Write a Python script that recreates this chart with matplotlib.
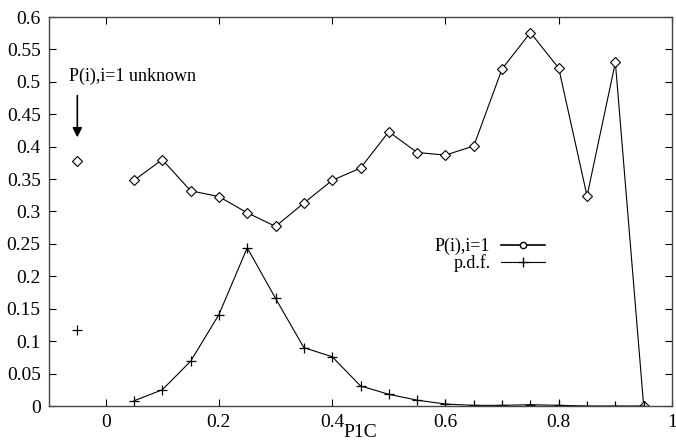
import matplotlib
matplotlib.use("Agg")
import matplotlib.pyplot as plt
from matplotlib.lines import Line2D

x_unknown = -0.05
p_unknown = 0.378
pdf_unknown = 0.117

x = [0.05, 0.1, 0.15, 0.2, 0.25, 0.3, 0.35, 0.4, 0.45, 0.5, 0.55, 0.6, 0.65,
     0.7, 0.75, 0.8, 0.85, 0.9, 0.95]
p_i1 = [0.348, 0.380, 0.332, 0.323, 0.298, 0.277, 0.313, 0.348, 0.367, 0.423,
        0.391, 0.387, 0.401, 0.520, 0.576, 0.521, 0.324, 0.530, 0.0]
pdf = [0.008, 0.025, 0.069, 0.141, 0.244, 0.166, 0.090, 0.076, 0.031, 0.018,
       0.009, 0.003, 0.001, 0.001, 0.002, 0.001, 0.0, 0.0, 0.0]

xticks = [0, 0.2, 0.4, 0.6, 0.8, 1]
xticklabels = ["0", "0.2", "0.4", "0.6", "0.8", "1"]
yticks = [0, 0.05, 0.1, 0.15, 0.2, 0.25, 0.3, 0.35, 0.4, 0.45, 0.5, 0.55, 0.6]
yticklabels = ["0", "0.05", "0.1", "0.15", "0.2", "0.25", "0.3", "0.35", "0.4",
               "0.45", "0.5", "0.55", "0.6"]

plt.rcParams['font.family'] = ['Liberation Serif', 'DejaVu Serif']

fig = plt.figure(figsize=(6.76, 4.44), dpi=100)
ax = fig.add_axes([49/676, 1 - 406/444, (672-49)/676, (406-17)/444])

ax.plot(x, p_i1, color='black', lw=0.8, marker='D', ms=5.5, mfc='white',
        mec='black', mew=0.8)
ax.plot(x, pdf, color='black', lw=0.8, marker='+', ms=7, mew=0.9)
ax.plot([x_unknown], [p_unknown], ls='none', marker='D', ms=5.5, mfc='white',
        mec='black', mew=0.8)
ax.plot([x_unknown], [pdf_unknown], ls='none', marker='+', ms=7, mew=0.9,
        color='black')

ax.set_xlim(-0.1, 1.0)
ax.set_ylim(0, 0.6)
ax.set_xticks(xticks)
ax.set_xticklabels(xticklabels)
ax.set_yticks(yticks)
ax.set_yticklabels(yticklabels)
ax.tick_params(direction='in', top=True, right=True, labelsize=14, length=5,
               width=0.8, pad=6)
for s in ax.spines.values():
    s.set_linewidth(1.0)
    s.set_color('#444444')

ax.set_xlabel("P1C", fontsize=14, labelpad=-5)

ax.annotate("", xy=(x_unknown, 0.41), xytext=(x_unknown, 0.483),
            arrowprops=dict(arrowstyle='-|>', color='black', lw=1.2,
                            mutation_scale=14))
ax.text(-0.064, 0.502, "P(i),i=1 unknown", fontsize=13, ha='left',
        va='baseline')

handles = [Line2D([], [], color='black', lw=1.2, marker='o', ms=4.5,
                  mfc='white', mec='black'),
           Line2D([], [], color='black', lw=0.8, marker='+', ms=7)]
ax.legend(handles, ["P(i),i=1", "p.d.f."], loc='upper left',
          bbox_to_anchor=(0.605, 0.455), frameon=False, markerfirst=False,
          fontsize=13, handlelength=2.4, handletextpad=0.6, labelspacing=-0.05,
          borderpad=0)

fig.savefig("out.png", dpi=100)
